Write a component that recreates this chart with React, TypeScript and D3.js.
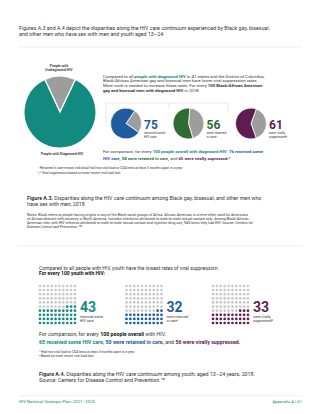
import React from 'react';
import * as d3 from 'd3';

// Figure A.3: Black gay/bisexual men with diagnosed HIV (per 100)
const overviewLabels = ['People with Undiagnosed HIV', 'People with Diagnosed HIV'];
const overviewValues = [14, 86];
const msmValues = [75, 56, 61];
const msmOverall = [76, 58, 65];

// Figure A.4: youth aged 13–24 (per 100)
const youthValues = [43, 32, 33];
const youthOverall = [65, 50, 56];

const stageLabels = [
  ['received some', 'HIV care'],
  ['were retained', 'in care¹'],
  ['were virally', 'suppressed²'],
];

const TEAL = '#128a80';
const GRAY = '#9d9d9d';
const stageColors = ['#1f5c9e', '#2f6b35', '#5e1d52'];
const youthColors = ['#128a80', '#1f5c9e', '#5e1d52'];
const TEXT = '#333';
const FONT = 'Roboto, sans-serif';

function Pie({ cx, cy, r, values, colors, start }: any) {
  const pie = d3.pie<number>().sort(null).startAngle(start).endAngle(start + Math.PI * 2);
  const arc = d3.arc<d3.PieArcDatum<number>>().innerRadius(0).outerRadius(r);
  return (
    <g transform={`translate(${cx},${cy})`}>
      {pie(values).map((d, i) => (
        <path key={i} d={arc(d) || ''} fill={colors[i]} stroke="#fff" strokeWidth={r > 20 ? 1.2 : 0.8} />
      ))}
    </g>
  );
}

function DotGrid({ x0, y0, value, color }: any) {
  const idx = d3.range(10);
  const xs = d3.scalePoint<number>().domain(idx).range([x0, x0 + 35]);
  const ys = d3.scalePoint<number>().domain(idx).range([y0, y0 + 37]);
  return (
    <g>
      {d3.range(100).map((i) => {
        const row = 9 - Math.floor(i / 10);
        const col = 9 - (i % 10);
        return (
          <circle key={i} cx={xs(col)} cy={ys(row)} r={1.35} fill={i < value ? color : '#c9c9c9'} />
        );
      })}
    </g>
  );
}

export default function App() {
  const pieX = d3.scaleLinear().domain([0, 2]).range([126, 251]);
  const gridX = d3.scaleLinear().domain([0, 2]).range([40, 213]);
  const deg = Math.PI / 180;
  const smallStarts = [35 * deg, 5 * deg, 20 * deg];

  return (
    <svg width={320} height={414} style={{ position: 'absolute', left: 0, top: 0, background: '#fff' }} fontFamily={FONT}>
      {/* header */}
      <text x={19} y={29.8} fontSize={5.3} fill={TEXT}>
        <tspan>Figures A.3 and A.4 depict the disparities along the HIV care continuum experienced by Black gay, bisexual,</tspan>
        <tspan x={19} y={36.3}>and other men who have sex with men and youth aged 13–24.</tspan>
      </text>
      <line x1={18} x2={302} y1={47} y2={47} stroke="#e8e8e8" strokeWidth={0.8} />

      {/* big pie */}
      <text x={59} y={67} fontSize={3.5} fontWeight={700} fill="#444" textAnchor="middle">
        <tspan>People with</tspan>
        <tspan x={59} y={71.4}>Undiagnosed HIV</tspan>
      </text>
      <Pie cx={60} cy={112} r={36} values={[overviewValues[0], overviewValues[1]]} colors={[GRAY, TEAL]} start={-25 * deg} />
      <text x={62} y={155} fontSize={3.5} fontWeight={700} fill="#444" textAnchor="middle">
        {overviewLabels[1]}
      </text>

      {/* right text block */}
      <text x={103} y={77.5} fontSize={4.3} fill={TEXT}>
        <tspan>Compared to all </tspan>
        <tspan fill={TEAL} fontWeight={700}>people with diagnosed HIV</tspan>
        <tspan> in 41 states and the District of Columbia,</tspan>
        <tspan x={103} y={82.2}>Black/African American gay and bisexual men have lower viral suppression rates.</tspan>
        <tspan x={103} y={86.9}>More work is needed to increase these rates. For every </tspan>
        <tspan fontWeight={700}>100 Black/African American</tspan>
        <tspan x={103} y={91.6} fontWeight={700}>gay and bisexual men with diagnosed HIV</tspan>
        <tspan> in 2018:</tspan>
      </text>

      {/* bracket */}
      <path d="M106,127V103H228V113M169,103V109" fill="none" stroke="#d9d9d9" strokeWidth={0.6} />

      {msmValues.map((v, i) => (
        <g key={i}>
          <Pie cx={pieX(i)} cy={123.5} r={15.5} values={[100 - v, v]} colors={[GRAY, stageColors[i]]} start={smallStarts[i]} />
          <text x={pieX(i) + 18} y={128.5} fontSize={12} fontWeight={700} fill={stageColors[i]}>{v}</text>
          <text x={pieX(i) + 18} y={134} fontSize={3.3} fill={TEXT}>
            <tspan>{stageLabels[i][0]}</tspan>
            <tspan x={pieX(i) + 18} y={137.8}>{stageLabels[i][1]}</tspan>
          </text>
        </g>
      ))}

      <text x={103} y={153.3} fontSize={4.3} fill={TEXT}>
        <tspan>For comparison, for every </tspan>
        <tspan fill={TEAL} fontWeight={700}>100 people overall with diagnosed HIV: </tspan>
        <tspan fill={stageColors[0]} fontWeight={700}>{msmOverall[0]} received some</tspan>
        <tspan x={103} y={160} fill={stageColors[0]} fontWeight={700}>HIV care, </tspan>
        <tspan fill={stageColors[1]} fontWeight={700}>{msmOverall[1]} were retained in care, </tspan>
        <tspan>and </tspan>
        <tspan fill={stageColors[2]} fontWeight={700}>{msmOverall[2]} were virally supressed.</tspan>
        <tspan>³</tspan>
      </text>
      <text x={38} y={169} fontSize={3.3} fill={TEXT}>
        <tspan>¹  Retained in care means individual had two viral load or CD4 tests at least 3 months apart in a year.</tspan>
        <tspan x={38} y={173.8}>²,³  Viral suppression based on most recent viral load test.</tspan>
      </text>

      {/* Figure A.3 caption */}
      <text x={27} y={199.5} fontSize={5.3} fill={TEXT}>
        <tspan fontWeight={700}>Figure A.3.</tspan>
        <tspan> Disparities along the HIV care continuum among Black gay, bisexual, and other men who</tspan>
        <tspan x={27} y={206}>have sex with men, 2018</tspan>
      </text>
      <text x={27} y={215.6} fontSize={3.6} fill={TEXT}>
        <tspan>Notes: Black refers to people having origins in any of the Black racial groups of Africa. African American is a term often used for Americans</tspan>
        <tspan x={27} y={219.6}>of African descent with ancestry in North America. Includes infections attributed to male-to-male sexual contact only. Among Black/African</tspan>
        <tspan x={27} y={223.6}>American men with HIV infection attributed to male-to-male sexual contact and injection drug use, 94% knew they had HIV. Source: Centers for</tspan>
        <tspan x={27} y={227.5}>Disease Control and Prevention.¹⁴⁸</tspan>
      </text>
      <line x1={18} x2={302} y1={246} y2={246} stroke="#e8e8e8" strokeWidth={0.8} />

      {/* youth section */}
      <text x={39} y={270} fontSize={5} fill={TEXT}>
        <tspan>Compared to all people with HIV, youth have the lowest rates of viral suppression.</tspan>
        <tspan x={39} y={275.2} fontWeight={700} fill="#111">For every 100 youth with HIV:</tspan>
      </text>

      {youthValues.map((v, i) => (
        <g key={i}>
          <DotGrid x0={gridX(i)} y0={286} value={v} color={youthColors[i]} />
          <text x={gridX(i) + 40} y={311.5} fontSize={14} fontWeight={700} fill={youthColors[i]}>{v}</text>
          <text x={gridX(i) + 40} y={318} fontSize={3.6} fill={TEXT}>
            <tspan>{stageLabels[i][0]}</tspan>
            <tspan x={gridX(i) + 40} y={322.2}>{stageLabels[i][1]}</tspan>
          </text>
        </g>
      ))}

      <text x={39} y={336} fontSize={5.3} fill={TEXT}>
        <tspan>For comparison, for every </tspan>
        <tspan fontWeight={700} fill="#111">100 people overall</tspan>
        <tspan> with HIV,</tspan>
        <tspan x={39} y={344} fill={youthColors[0]} fontWeight={700}>{youthOverall[0]} received some HIV care, </tspan>
        <tspan fill={youthColors[1]} fontWeight={700}>{youthOverall[1]} were retained in care,</tspan>
        <tspan> and </tspan>
        <tspan fill={youthColors[2]} fontWeight={700}>{youthOverall[2]} were virally suppressed.</tspan>
      </text>
      <text x={39} y={353} fontSize={3.3} fill={TEXT}>
        <tspan>¹ Had two viral load or CD4 tests at least 3 months apart in a year.</tspan>
        <tspan x={39} y={357.4}>² Based on most recent viral load test.</tspan>
      </text>

      <text x={39} y={375.8} fontSize={5.3} fill={TEXT}>
        <tspan fontWeight={700}>Figure A.4.</tspan>
        <tspan> Disparities along the HIV care continuum among youth, aged 13–24 years, 2018.</tspan>
        <tspan x={39} y={382.2}>Source: Centers for Disease Control and Prevention.¹⁸</tspan>
      </text>

      {/* footer */}
      <line x1={19} x2={302} y1={395.7} y2={395.7} stroke="#e8e8e8" strokeWidth={0.8} />
      <text x={19} y={403.2} fontSize={4.3} fill={TEAL}>HIV National Strategic Plan: 2021–2025</text>
      <text x={302} y={403.2} fontSize={4.3} fill={TEAL} textAnchor="end">Appendix A  |  61</text>
    </svg>
  );
}
